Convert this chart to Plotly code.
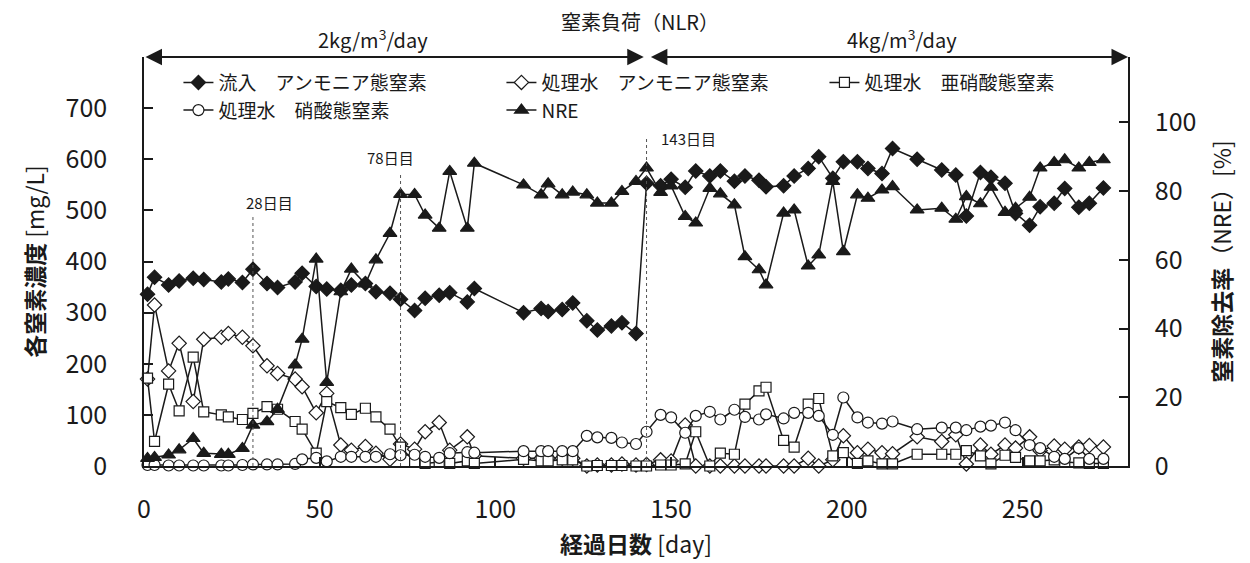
import plotly.graph_objects as go

# ---------------- data ----------------
days = [1, 3, 7, 10, 14, 17, 22, 24, 28, 31, 35, 38, 43, 45, 49, 52, 56, 59, 63, 66,
        70, 73, 77, 80, 84, 87, 92, 94, 108, 113, 115, 119, 122, 126, 129, 133, 136, 140,
        143, 147, 150, 154, 157, 161, 164, 168, 171, 175, 177, 182, 185, 189, 192, 196,
        199, 203, 206, 210, 213, 220, 227, 231, 234, 238, 241, 245, 248, 252, 255, 259,
        262, 266, 269, 273]

inf_nh4 = [336, 369, 354, 362, 367, 365, 360, 366, 359, 385, 357, 349, 360, 377, 351, 346, 344, 354, 357, 341,
           338, 326, 304, 328, 334, 339, 321, 347, 300, 308, 302, 306, 319, 284, 266, 274, 280, 259,
           553, 548, 561, 545, 577, 567, 577, 557, 567, 559, 546, 548, 567, 582, 605, 563,
           595, 595, 582, 572, 621, 600, 579, 569, 489, 574, 565, 553, 494, 471, 507, 514,
           543, 506, 514, 544]

eff_nh4 = [170, 315, 186, 240, 126, 248, 252, 259, 252, 235, 196, 181, 170, 155, 104, 142, 41, 31, 38, 25,
           13, 43, 33, 67, 85, 31, 57, 20, 15, 15, 15, 15, 15, 0, 2, 2, 4, 2,
           3, 12, 10, 80, 0, 0, 0, 0, 0, 0, 0, 0, 0, 15, 0, 12,
           59, 26, 33, 26, 24, 57, 48, 61, 4, 41, 23, 41, 35, 57, 30, 39,
           33, 37, 40, 37]

eff_no2 = [172, 48, 160, 108, 213, 106, 100, 96, 91, 103, 116, 111, 87, 72, 25, 126, 114, 101, 113, 96,
           72, 37, 8, 5, 8, 5, 10, 5, 13, 10, 10, 12, 12, 0, 1, 1, 1, 0,
           0, 2, 2, 4, 67, 0, 25, 23, 121, 147, 154, 50, 37, 121, 132, 20,
           26, 5, 10, 4, 4, 23, 23, 23, 30, 20, 4, 21, 17, 10, 10, 12,
           8, 6, 5, 5]

eff_no3 = [2, 2, 1, 1, 1, 1, 1, 1, 2, 3, 3, 3, 4, 13, 16, 9, 18, 18, 18, 18,
           23, 21, 22, 18, 16, 25, 27, 26, 29, 29, 29, 29, 29, 59, 56, 55, 46, 43,
           67, 100, 95, 65, 98, 106, 91, 110, 96, 91, 101, 93, 104, 104, 98, 61,
           134, 95, 85, 83, 87, 72, 75, 75, 70, 77, 79, 85, 70, 41, 35, 18,
           14, 35, 14, 14]

nre = [2.2, 2.5, 3.2, 4.7, 8.0, 3.7, 3.4, 3.4, 5.1, 11.9, 12.9, 16.5, 29.4, 36.9, 60.2, 24.3, 50.7, 57.3, 53.0, 60.0,
       67.7, 79.0, 79.0, 73.0, 69.2, 85.7, 69.2, 88.1, 81.8, 78.9, 82.1, 78.9, 79.7, 78.9, 76.5, 76.5, 79.9, 82.8,
       86.7, 79.6, 81.5, 72.6, 70.7, 80.8, 79.2, 76.0, 60.9, 57.1, 52.7, 73.6, 74.5, 58.2, 61.4, 82.8,
       62.4, 78.9, 77.9, 80.3, 81.3, 74.5, 75.0, 71.8, 78.4, 76.3, 81.1, 73.8, 75.0, 78.2, 86.7, 88.3,
       89.1, 86.7, 88.3, 89.1]

series_names = ["流入\u3000アンモニア態窒素", "処理水\u3000アンモニア態窒素", "処理水\u3000亜硝酸態窒素",
                "処理水\u3000硝酸態窒素", "NRE"]

event_days = [31, 73, 143]
event_labels = ["28日目", "78日目", "143日目"]
event_tops = [487, 575, 640]

x_ticks = [0, 50, 100, 150, 200, 250]
y_ticks = [0, 100, 200, 300, 400, 500, 600, 700]
y2_ticks = [0, 20, 40, 60, 80, 100]

# ---------------- figure ----------------
FONT = "Noto Sans CJK JP"
BLACK = "#1a1a1a"

fig = go.Figure()

def add(y, name, symbol, fill, size, axis="y"):
    fig.add_trace(go.Scatter(
        x=days, y=y, name=name, mode="lines+markers", yaxis=axis,
        line=dict(color=BLACK, width=1.5),
        marker=dict(symbol=symbol, size=size, color=fill, line=dict(color=BLACK, width=1.2)),
        cliponaxis=False,
    ))

add(inf_nh4, series_names[0], "diamond", BLACK, 11)
add(eff_nh4, series_names[1], "diamond", "white", 11)
add(eff_no2, series_names[2], "square", "white", 10)
add(eff_no3, series_names[3], "circle", "white", 11)
add(nre, series_names[4], "triangle-up", BLACK, 12, axis="y2")

# dotted event lines + labels
for d, top in zip(event_days, event_tops):
    fig.add_shape(type="line", xref="x", yref="y", x0=d, x1=d, y0=0, y1=top,
                  line=dict(color="#555555", width=1, dash="dot"))
shifts = [17, -10, 12]
anchors = ["center", "center", "left"]
yanchors = ["bottom", "bottom", "middle"]
for d, lab, top, sh, an, ya in zip(event_days, event_labels, event_tops, shifts, anchors, yanchors):
    fig.add_annotation(x=d, y=top, xref="x", yref="y", text=lab, showarrow=False,
                       xanchor=an, yanchor=ya, xshift=sh, yshift=2 if ya == "bottom" else 0,
                       font=dict(family=FONT, size=15, color=BLACK))

# top arrows (NLR periods)
for x0, x1 in [(0, 142.2), (143.8, 280)]:
    fig.add_annotation(x=x1, y=1, ax=x0, ay=1, xref="x", yref="y domain",
                       axref="x", ayref="y domain", text="", showarrow=True,
                       arrowhead=2, arrowside="end+start", arrowsize=1.5,
                       arrowwidth=2.2, arrowcolor=BLACK)

fig.add_annotation(x=0.504, y=1.086, xref="paper", yref="paper", text="窒素負荷（NLR）",
                   showarrow=False, xanchor="center", yanchor="middle",
                   font=dict(family=FONT, size=20, color=BLACK))
fig.add_annotation(x=0.233, y=1.044, xref="paper", yref="paper", text="2kg/m<sup>3</sup>/day",
                   showarrow=False, xanchor="center", yanchor="middle",
                   font=dict(family=FONT, size=20, color=BLACK))
fig.add_annotation(x=0.77, y=1.044, xref="paper", yref="paper", text="4kg/m<sup>3</sup>/day",
                   showarrow=False, xanchor="center", yanchor="middle",
                   font=dict(family=FONT, size=20, color=BLACK))

axis_common = dict(showline=True, linecolor=BLACK, linewidth=1.5, showgrid=False, zeroline=False,
                   ticks="inside", ticklen=9, tickcolor=BLACK, tickwidth=1.5,
                   tickfont=dict(family=FONT, size=25, color=BLACK))

fig.update_layout(
    width=1242, height=555,
    margin=dict(l=136, r=122, t=49, b=97, autoexpand=False),
    plot_bgcolor="white", paper_bgcolor="white",
    font=dict(family=FONT, color=BLACK),
    showlegend=True,
    legend=dict(orientation="h", x=0.035, y=0.984, xanchor="left", yanchor="top",
                entrywidth=278, entrywidthmode="pixels", tracegroupgap=0,
                font=dict(family=FONT, size=19, color=BLACK), bgcolor="rgba(0,0,0,0)",
                itemwidth=30),
    xaxis=dict(range=[0, 280], tickvals=x_ticks, ticklabelstandoff=20,
               title=dict(text="<b>経過日数</b> [day]", standoff=13,
                          font=dict(family=FONT, size=23, color=BLACK)),
               **axis_common),
    yaxis=dict(range=[0, 800], tickvals=y_ticks, ticklabelstandoff=30,
               title=dict(text="<b>各窒素濃度</b> [mg/L]", standoff=15,
                          font=dict(family=FONT, size=23, color=BLACK)),
               **axis_common),
    yaxis2=dict(range=[0, 119], tickvals=y2_ticks, overlaying="y", side="right",
                ticklabelstandoff=20,
                title=dict(text="<b>窒素除去率</b>（NRE）[%]", standoff=20,
                           font=dict(family=FONT, size=23, color=BLACK)),
                **axis_common),
)

fig.write_html("out.html")
